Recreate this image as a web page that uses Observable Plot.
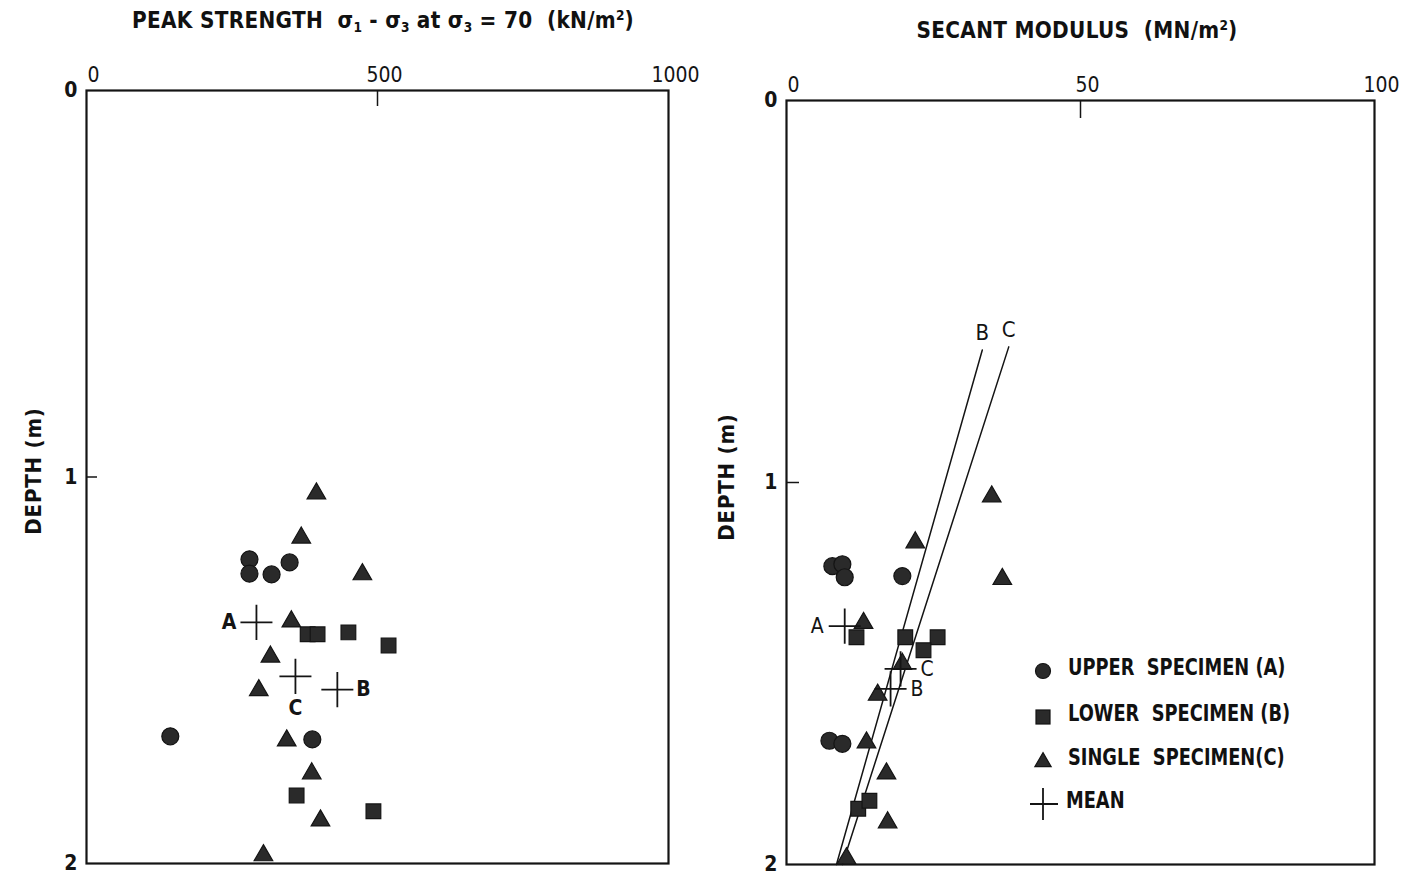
<!DOCTYPE html>
<html><head><meta charset="utf-8">
<script src="https://cdn.jsdelivr.net/npm/d3@7"></script>
<script src="https://cdn.jsdelivr.net/npm/@observablehq/plot@0.6"></script>
<style>
body{margin:0;background:#fff;}
#wrap{position:relative;width:1403px;height:876px;overflow:hidden;font-family:"DejaVu Sans Condensed","DejaVu Sans",sans-serif;color:#111;}
.pane{position:absolute;top:0;}
.title{position:absolute;font-size:23px;font-weight:bold;letter-spacing:0.3px;white-space:nowrap;transform:translateX(-50%) scaleX(0.97);}
.title sub{font-size:14px;vertical-align:-4px;letter-spacing:0;}
.title sup{font-size:14px;vertical-align:8px;letter-spacing:0;}
.ylab{position:absolute;font-size:22px;font-weight:bold;letter-spacing:0.8px;white-space:nowrap;transform:translate(-50%,-50%) rotate(-90deg);}
.legend{position:absolute;left:1030px;top:652px;font-size:23px;font-weight:bold;}
.legend .row{position:absolute;left:0;white-space:nowrap;height:34px;}
.legend svg{position:absolute;left:0;top:0;}
.legend span{position:absolute;left:38px;top:2px;transform:scaleX(0.86);transform-origin:0 50%;}
</style></head>
<body><div id="wrap">
<div class="title" style="left:383px;top:7px;">PEAK STRENGTH&nbsp;&nbsp;σ<sub>1</sub> - σ<sub>3</sub> at σ<sub>3</sub> = 70&nbsp;&nbsp;(kN/m<sup>2</sup>)</div>
<div class="title" style="left:1077px;top:17px;">SECANT MODULUS&nbsp;&nbsp;(MN/m<sup>2</sup>)</div>
<div class="ylab" style="left:33px;top:471px;">DEPTH (m)</div>
<div class="ylab" style="left:726px;top:477px;">DEPTH (m)</div>
<div class="pane" id="left" style="left:0px;"></div>
<div class="pane" id="right" style="left:700px;"></div>
<div class="legend" id="legend"></div>
</div>
<script>
// ---------- DATA ----------
// Left panel: peak strength (kN/m2) vs depth (m)
const strengthUpperX = [280, 280, 318, 349, 144, 388];
const strengthUpperDepth = [1.213, 1.250, 1.252, 1.221, 1.671, 1.679];
const strengthLowerX = [380, 397, 450, 519, 361, 493];
const strengthLowerDepth = [1.407, 1.407, 1.402, 1.436, 1.824, 1.865];
const strengthSingleX = [395, 369, 474, 352, 316, 296, 344, 387, 402, 304];
const strengthSingleDepth = [1.043, 1.157, 1.252, 1.374, 1.465, 1.552, 1.682, 1.767, 1.889, 1.979];
const strengthMeanId = ["A", "C", "B"];
const strengthMeanX = [292, 359, 431];
const strengthMeanDepth = [1.376, 1.516, 1.550];

// Right panel: secant modulus (MN/m2) vs depth (m)
const modulusUpperX = [7.8, 9.5, 9.9, 19.7, 7.3, 9.5];
const modulusUpperDepth = [1.219, 1.214, 1.248, 1.245, 1.676, 1.684];
const modulusLowerX = [11.9, 20.2, 25.7, 23.3, 12.2, 14.1];
const modulusLowerDepth = [1.405, 1.405, 1.405, 1.439, 1.854, 1.833];
const modulusSingleX = [34.9, 21.9, 36.7, 13.1, 19.7, 15.5, 13.6, 17.0, 17.2, 10.2];
const modulusSingleDepth = [1.037, 1.157, 1.253, 1.368, 1.475, 1.556, 1.681, 1.762, 1.890, 1.984];
const modulusMeanId = ["A", "C", "B"];
const modulusMeanX = [9.9, 19.4, 17.7];
const modulusMeanDepth = [1.376, 1.488, 1.540];
// Trend lines B and C (bottom, top)
const trendId = ["B", "B", "C", "C"];
const trendX = [8.5, 33.3, 9.5, 37.8];
const trendDepth = [2.0, 0.653, 2.0, 0.645];

// Axis ticks
const strengthTicks = [0, 500, 1000];
const modulusTicks = [0, 50, 100];
const depthTicks = [0, 1, 2];

const legendLabels = ["UPPER  SPECIMEN (A)", "LOWER  SPECIMEN (B)", "SINGLE  SPECIMEN(C)", "MEAN"];

// ---------- HELPERS ----------
const zip = (xs, ys, ids) => xs.map((x, i) => ({x, y: ys[i], id: ids ? ids[i] : null}));
const thinPlus = {
  draw(ctx, size) {
    const r = Math.sqrt(size / Math.PI);
    ctx.moveTo(-r, 0); ctx.lineTo(r, 0);
    ctx.moveTo(0, -r * 1.1); ctx.lineTo(0, r * 1.1);
  }
};
const INK = "#141414";
const FILL = "#2a2a2a";

function panel({width, height, mL, mR, mT, mB, xDomain, xTicks, upper, lower, single, means, meanLabels, trends, tickIn}) {
  const marks = [
    Plot.frame({stroke: INK, strokeWidth: 2.2}),
    Plot.axisX({anchor: "top", ticks: xTicks, tickSize: 0, tickPadding: 9, dx: 7, label: null,
      fontSize: 21, fontWeight: "normal", fill: INK, tickFormat: d3.format("d")}),
    Plot.axisX({anchor: "top", ticks: xTicks.slice(1, 2), tickSize: -tickIn, tickFormat: () => "", label: null, stroke: INK, strokeWidth: 1.5}),
    Plot.axisY({anchor: "left", ticks: depthTicks, tickSize: 0, tickPadding: 9, label: null,
      fontSize: 21, fill: INK, tickFormat: d3.format("d")}),
    Plot.axisY({anchor: "left", ticks: depthTicks.slice(1, 2), tickSize: -tickIn + 4, tickFormat: () => "", label: null, stroke: INK, strokeWidth: 1.5}),
  ];
  if (trends) {
    marks.push(Plot.line(trends, {x: "x", y: "y", z: "id", stroke: INK, strokeWidth: 1.5}));
    marks.push(Plot.text(trends.filter((d, i) => d.y < 1), {x: "x", y: "y", text: "id", dy: -17, fontSize: 22, fill: INK, fontWeight: "normal"}));
  }
  marks.push(
    Plot.dot(upper, {x: "x", y: "y", symbol: "circle", r: 8.5, fill: FILL, stroke: INK, strokeWidth: 1.2}),
    Plot.dot(lower, {x: "x", y: "y", symbol: "square", r: 8.3, fill: FILL, stroke: INK, strokeWidth: 1.2}),
    Plot.dot(single, {x: "x", y: "y", symbol: "triangle", r: 6.9, fill: FILL, stroke: INK, strokeWidth: 1.2}),
    Plot.dot(means, {x: "x", y: "y", symbol: thinPlus, r: 16, fill: "none", stroke: INK, strokeWidth: 1.8})
  );
  for (const [id, opt] of Object.entries(meanLabels)) {
    marks.push(Plot.text(means.filter(d => d.id === id), {x: "x", y: "y", text: "id", fontSize: 21, fill: INK, ...opt}));
  }
  return Plot.plot({
    width, height,
    marginLeft: mL, marginRight: mR, marginTop: mT, marginBottom: mB,
    x: {domain: xDomain},
    y: {domain: [0, 2], reverse: true},
    style: {fontFamily: '"DejaVu Sans Condensed","DejaVu Sans",sans-serif', fontWeight: "bold", background: "transparent", overflow: "visible"},
    marks
  });
}

document.getElementById("left").append(panel({
  width: 700, height: 876, mL: 86, mR: 32, mT: 90, mB: 13,
  xDomain: [0, 1000], xTicks: strengthTicks, tickIn: 15,
  upper: zip(strengthUpperX, strengthUpperDepth),
  lower: zip(strengthLowerX, strengthLowerDepth),
  single: zip(strengthSingleX, strengthSingleDepth),
  means: zip(strengthMeanX, strengthMeanDepth, strengthMeanId),
  meanLabels: {
    A: {dx: -20, textAnchor: "end"},
    C: {dy: 32},
    B: {dx: 19, textAnchor: "start"}
  }
}));

document.getElementById("right").append(panel({
  width: 703, height: 876, mL: 86, mR: 29, mT: 100, mB: 12,
  xDomain: [0, 100], xTicks: modulusTicks, tickIn: 17,
  upper: zip(modulusUpperX, modulusUpperDepth),
  lower: zip(modulusLowerX, modulusLowerDepth),
  single: zip(modulusSingleX, modulusSingleDepth),
  means: zip(modulusMeanX, modulusMeanDepth, modulusMeanId),
  trends: zip(trendX, trendDepth, trendId),
  meanLabels: {
    A: {dx: -21, textAnchor: "end", fontWeight: "normal"},
    C: {dx: 20, textAnchor: "start", fontWeight: "normal"},
    B: {dx: 20, textAnchor: "start", fontWeight: "normal"}
  }
}));

// ---------- LEGEND ----------
const legend = document.getElementById("legend");
const rowsTop = [0, 46, 90, 133];
const symbolsSvg = [
  `<circle cx="13" cy="19" r="7.5" fill="${FILL}" stroke="${INK}" stroke-width="1.2"/>`,
  `<rect x="6" y="12" width="14" height="14" fill="${FILL}" stroke="${INK}" stroke-width="1.2"/>`,
  `<path d="${d3.symbol(d3.symbolTriangle, 115)()}" transform="translate(13,20)" fill="${FILL}" stroke="${INK}" stroke-width="1.2"/>`,
  `<path d="M-2,19H28M13,3V35" stroke="${INK}" stroke-width="1.8" fill="none"/>`
];
legendLabels.forEach((lab, i) => {
  const row = document.createElement("div");
  row.className = "row";
  row.style.top = rowsTop[i] + "px";
  row.innerHTML = `<svg width="36" height="38">${symbolsSvg[i]}</svg><span style="${i === 3 ? 'left:36px' : ''}">${lab.replace(/  /g, "&nbsp;&nbsp;")}</span>`;
  legend.append(row);
});
</script>
</body></html>
